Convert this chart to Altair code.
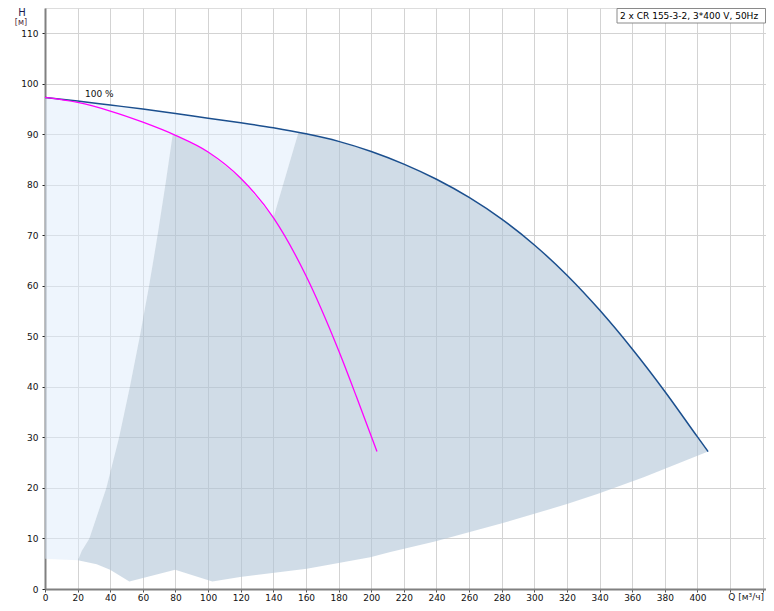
import altair as alt
import pandas as pd

FONT = "DejaVu Sans"

# Two-pump 100 % curve (dark blue)
DARK_Q = [0, 20, 40, 60, 80, 100, 120, 140, 160, 180, 200, 220, 240, 260, 280, 300, 320, 340, 360, 380, 400, 406.5]
DARK_H = [97.3, 96.6, 95.8, 95.0, 94.1, 93.2, 92.3, 91.3, 90.1, 88.6, 86.6, 84.1, 81.1, 77.5, 73.2, 68.1, 62.1, 55.2, 47.5, 39.1, 30.1, 27.2]

# One-pump curve (magenta)
MAG_Q = [0, 20, 40, 60, 80, 100, 120, 140, 160, 180, 191, 203.5]
MAG_H = [97.3, 96.3, 94.6, 92.4, 89.8, 86.5, 81.3, 73.5, 62.0, 47.2, 38.0, 27.2]

# Left edge of the one-pump range (grey), bottom to top
EDGE_A_Q = [20.2, 22.5, 27.2, 37.6, 45.4, 52.0, 58.1, 63.8, 69.0, 73.8, 78.3]
EDGE_A_H = [5.7, 7.5, 10, 20, 30, 40, 50, 60, 70, 80, 90.0]

# Left edge of the two-pump range: from the magenta curve up to the dark curve
EDGE_B_Q = [140, 155.5]
EDGE_B_H = [73.5, 90.5]

# Lower boundary of the operating range, right to left
BOTTOM_Q = [406.5, 367, 339.5, 320, 279, 239, 211.7, 199.4, 160.5, 119.6, 102.6, 79.8, 51.7, 39.9, 31.7, 20.2]
BOTTOM_H = [27.2, 22.1, 18.9, 16.8, 12.9, 9.4, 7.3, 6.3, 4.0, 2.4, 1.5, 3.8, 1.5, 3.8, 4.9, 5.7]

# Floor of the light region at Q = 0
FLOOR_Q = [0]
FLOOR_H = [6.0]

X_TICKS = list(range(0, 441, 20))
Y_TICKS = list(range(0, 111, 10))

CURVE_LABEL = ["100 %"]
CURVE_LABEL_Q = [24.5]
CURVE_LABEL_H = [97.9]

LEGEND_TEXT = ["2 x CR 155-3-2, 3*400 V, 50Hz"]
X_TITLE = ["Q [м³/ч]"]
Y_TITLE_1 = ["H"]
Y_TITLE_2 = ["[м]"]

W, H = 721, 581

# ---- polygons ----
mag_mid = [(q, h) for q, h in zip(MAG_Q, MAG_H) if 80 <= q < 140]
edge_a = list(zip(EDGE_A_Q, EDGE_A_H))
edge_b = list(zip(EDGE_B_Q, EDGE_B_H))
dark_right = [(q, h) for q, h in zip(DARK_Q, DARK_H) if q > 155.5]
dark_left = [(q, h) for q, h in zip(DARK_Q, DARK_H) if q < 155.5]
bottom = list(zip(BOTTOM_Q, BOTTOM_H))

grey_pts = edge_a + mag_mid + edge_b + dark_right + bottom[1:]
light_pts = dark_left + edge_b[::-1] + mag_mid[::-1] + edge_a[::-1] + list(zip(FLOOR_Q, FLOOR_H))

grey_df = pd.DataFrame({"Q": [p[0] for p in grey_pts], "H": [p[1] for p in grey_pts], "i": range(len(grey_pts))})
light_df = pd.DataFrame({"Q": [p[0] for p in light_pts], "H": [p[1] for p in light_pts], "i": range(len(light_pts))})
dark_df = pd.DataFrame({"Q": DARK_Q, "H": DARK_H})
mag_df = pd.DataFrame({"Q": MAG_Q, "H": MAG_H})
lab_df = pd.DataFrame({"Q": CURVE_LABEL_Q, "H": CURVE_LABEL_H, "t": CURVE_LABEL})

x_scale = alt.Scale(domain=[0, 442], nice=False, zero=False)
y_scale = alt.Scale(domain=[0, 115], nice=False, zero=False)

x_axis = alt.Axis(
    values=X_TICKS, labelExpr="datum.value <= 400 ? datum.label : ''", title=None,
    grid=True, gridColor="#d3d3d3", gridWidth=1,
    domainColor="#808080", domainWidth=2, tickColor="#555555", tickSize=3, tickWidth=1,
    labelFont=FONT, labelFontSize=9, labelColor="#111111", labelPadding=1, labelFlush=False,
)
y_axis = alt.Axis(
    values=Y_TICKS, title=None,
    grid=True, gridColor="#d3d3d3", gridWidth=1,
    domainColor="#808080", domainWidth=2, tickColor="#222222", tickSize=3, tickWidth=1,
    labelFont=FONT, labelFontSize=9, labelColor="#111111", labelPadding=4,
)

X = alt.X("Q:Q", scale=x_scale, axis=x_axis)
Y = alt.Y("H:Q", scale=y_scale, axis=y_axis)

light = alt.Chart(light_df).mark_line(
    fill="#DDEBFB", fillOpacity=0.5, strokeWidth=0, interpolate="linear"
).encode(x=X, y=Y, order="i:Q")

grey = alt.Chart(grey_df).mark_line(
    fill="#B1C5D7", fillOpacity=0.6, strokeWidth=0, interpolate="linear"
).encode(x=X, y=Y, order="i:Q")

dark = alt.Chart(dark_df).mark_line(
    color="#1B4F8E", strokeWidth=1.5, interpolate="monotone"
).encode(x=X, y=Y)

mag = alt.Chart(mag_df).mark_line(
    color="#FF00FF", strokeWidth=1.3, interpolate="monotone"
).encode(x=X, y=Y)

lab = alt.Chart(lab_df).mark_text(
    font=FONT, fontSize=9, color="#111111", align="left", baseline="middle"
).encode(x=X, y=Y, text="t:N")

legend_box = alt.Chart(pd.DataFrame({"t": LEGEND_TEXT})).mark_rect(
    fill="white", stroke="#8a8a8a", strokeWidth=1
).encode(x=alt.value(W - 149), x2=alt.value(W - 0.5), y=alt.value(0.5), y2=alt.value(15))

legend_txt = alt.Chart(pd.DataFrame({"t": LEGEND_TEXT})).mark_text(
    font=FONT, fontSize=9, color="#000000", align="left", baseline="middle"
).encode(x=alt.value(W - 146), y=alt.value(8), text="t:N")

x_title = alt.Chart(pd.DataFrame({"t": X_TITLE})).mark_text(
    font=FONT, fontSize=9, color="#222222", align="right", baseline="top"
).encode(x=alt.value(W - 2), y=alt.value(H + 4), text="t:N")

y_title1 = alt.Chart(pd.DataFrame({"t": Y_TITLE_1})).mark_text(
    font=FONT, fontSize=10, color="#1a1a50", align="center", baseline="middle"
).encode(x=alt.value(-23), y=alt.value(5), text="t:N")

y_title2 = alt.Chart(pd.DataFrame({"t": Y_TITLE_2})).mark_text(
    font=FONT, fontSize=8, color="#502838", align="center", baseline="middle"
).encode(x=alt.value(-24), y=alt.value(14.5), text="t:N")

chart = alt.layer(
    light, grey, dark, mag, lab, legend_box, legend_txt, x_title, y_title1, y_title2
).properties(
    width=W, height=H,
    autosize=alt.AutoSizeParams(type="none"),
    padding={"left": 37, "top": 0, "right": 0, "bottom": 14},
).configure_view(strokeWidth=0).configure(background="white")

chart.save("out.html", embed_options={"renderer": "svg", "actions": False})
